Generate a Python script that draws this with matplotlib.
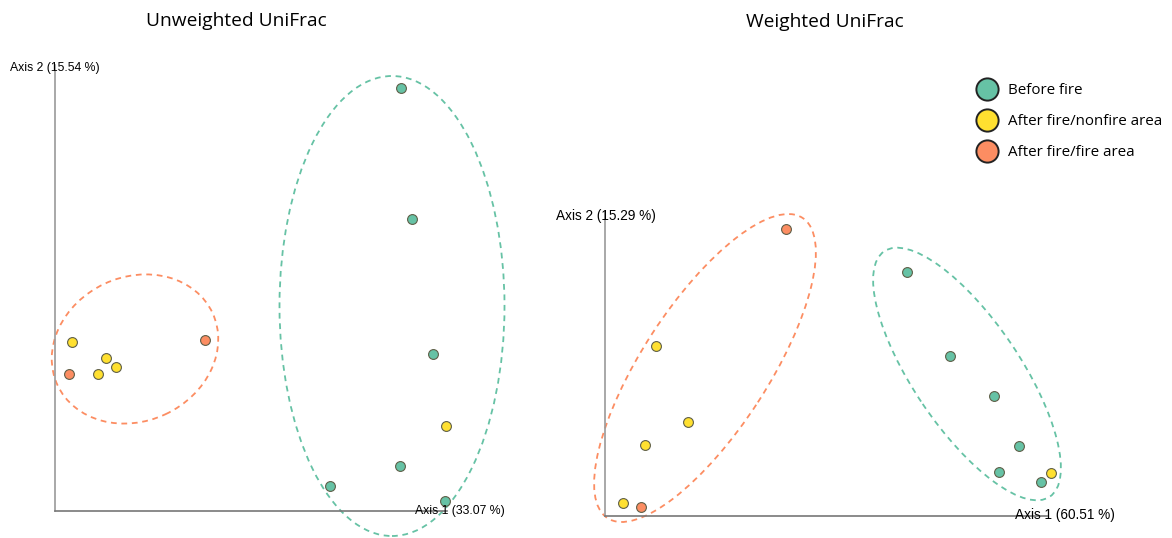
import matplotlib.pyplot as plt
from matplotlib.patches import Ellipse
from matplotlib.lines import Line2D

W, H = 1172, 538

GREEN = '#66c2a5'
YELLOW = '#ffe030'
ORANGE = '#fc8d62'

groups = ['Before fire', 'After fire/nonfire area', 'After fire/fire area']
colors = [GREEN, YELLOW, ORANGE]

# unweighted UniFrac scores (axis 1, axis 2)
unw_before_x = [346, 357, 378, 345, 275, 390]
unw_before_y = [423, 292, 157, 45, 25, 10]
unw_nonfire_x = [17, 51, 61, 43, 391]
unw_nonfire_y = [169, 153, 144, 137, 85]
unw_fire_x = [150, 14]
unw_fire_y = [171, 137]

# weighted UniFrac scores (axis 1, axis 2)
w_before_x = [302, 345, 389, 414, 394, 436]
w_before_y = [244, 160, 120, 70, 44, 34]
w_nonfire_x = [51, 83, 40, 18, 446]
w_nonfire_y = [170, 94, 71, 13, 43]
w_fire_x = [181, 36]
w_fire_y = [287, 9]

unw_pct = [33.07, 15.54]
w_pct = [60.51, 15.29]

fig = plt.figure(figsize=(W / 100, H / 100), dpi=100)


def panel(x0, y0, w, h):
    # axes placed in pixel units so one data unit is one pixel
    ax = fig.add_axes([x0 / W, (H - y0) / H, w / W, h / H])
    ax.set_xlim(0, w)
    ax.set_ylim(0, h)
    for s in ['top', 'right']:
        ax.spines[s].set_visible(False)
    ax.spines['left'].set_color('#9a9a9a')
    ax.spines['bottom'].set_color('#777777')
    ax.spines['left'].set_linewidth(1.2)
    ax.spines['bottom'].set_linewidth(1.2)
    ax.set_xticks([])
    ax.set_yticks([])
    ax.patch.set_alpha(0)
    return ax


def points(ax, xs, ys, c):
    ax.scatter(xs, ys, s=50, c=c, edgecolors='#5f5f48', linewidths=0.8,
               zorder=3, clip_on=False)


def ring(ax, xy, w, h, ang, c):
    ax.add_patch(Ellipse(xy, w, h, angle=ang, fill=False, ec=c, lw=1.3,
                         ls=(0, (3.2, 2.6)), clip_on=False))


# left panel
ax1 = panel(55, 511, 392, 446)
ring(ax1, (337, 205), 225, 460, 0, GREEN)
ring(ax1, (80, 162), 171, 144, 25, ORANGE)
points(ax1, unw_before_x, unw_before_y, GREEN)
points(ax1, unw_nonfire_x, unw_nonfire_y, YELLOW)
points(ax1, unw_fire_x, unw_fire_y, ORANGE)
ax1.text(-45, 446 - 3, 'Axis 2 (%.2f %%)' % unw_pct[1], fontsize=8.8,
         family='Liberation Sans', va='center', ha='left')
ax1.text(360, 0, 'Axis 1 (%.2f %%)' % unw_pct[0], fontsize=8.8,
         family='Liberation Sans', va='center', ha='left')

# right panel
ax2 = panel(605, 516, 442, 304)
ring(ax2, (100, 148), 358, 126, 57, ORANGE)
ring(ax2, (362, 142), 296, 107, -56, GREEN)
points(ax2, w_before_x, w_before_y, GREEN)
points(ax2, w_nonfire_x, w_nonfire_y, YELLOW)
points(ax2, w_fire_x, w_fire_y, ORANGE)
ax2.text(-49, 304 - 4, 'Axis 2 (%.2f %%)' % w_pct[1], fontsize=9.8,
         family='Liberation Sans', va='center', ha='left')
ax2.text(410, 1, 'Axis 1 (%.2f %%)' % w_pct[0], fontsize=9.8,
         family='Liberation Sans', va='center', ha='left')

fig.text(236 / W, 1 - 21 / H, 'Unweighted UniFrac', fontsize=13.8,
         family='Open Sans', ha='center', va='center')
fig.text(825 / W, 1 - 22 / H, 'Weighted UniFrac', fontsize=13.8,
         family='Open Sans', ha='center', va='center')

handles = [Line2D([], [], ls='', marker='o', ms=16, mfc=c, mec='#222222',
                  mew=1.4) for c in colors]
fig.legend(handles, groups, loc='upper left',
           bbox_to_anchor=(977 / W, 1 - 83 / H),
           frameon=False, handletextpad=0.68, labelspacing=1.06,
           handlelength=1.35, borderpad=0, borderaxespad=0,
           prop={'family': 'Open Sans', 'size': 10.9})

fig.savefig('out.png', dpi=100)
